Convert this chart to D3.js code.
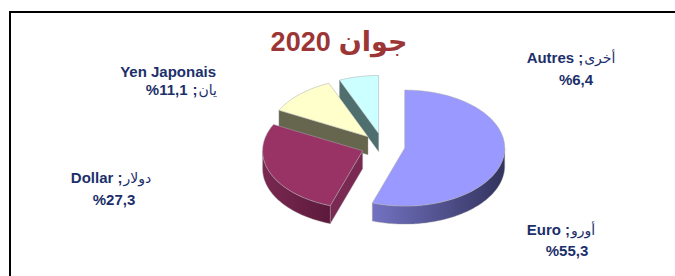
<!DOCTYPE html>
<html><head><meta charset="utf-8">
<script src="https://cdn.jsdelivr.net/npm/d3@7"></script>
<style>html,body{margin:0;padding:0;background:#fff;}svg{display:block;}</style>
</head><body>
<svg id="c" width="675" height="276"></svg>
<script>
const categories = ["Euro", "Dollar", "Yen Japonais", "Autres"];
const categoriesAr = ["أورو", "دولار", "يان", "أخرى"];
const values = [55.3, 27.3, 11.1, 6.4];
const titleYear = "2020";
const titleMonth = "جوان";

const svg = d3.select("#c");
const W = 675, H = 276;

// frame
svg.append("path").attr("d", `M10,${H+5} L10,12 L${W+5},12`)
  .attr("fill", "none").attr("stroke", "#000").attr("stroke-width", 2);

const cx = 383, cy = 146, rx = 100, ry = 58, depth = 18, explode = 22;
const pie = d3.pie().sort(null).startAngle(0).endAngle(2 * Math.PI);
const arcs = pie(values);

const topColors = ["#9999ff", "#993366", "#ffffcc", "#ccffff"];
const radialColors = ["#55559a", "#7a2a52", "#66664e", "#4f6e6e"];
const wallLight = ["#7272c2", "#7a2850", "#77775a", "#5a7a7a"];
const wallDark = ["#33335e", "#5c1a3b", "#55553f", "#3f5a5a"];

const defs = svg.append("defs");
arcs.forEach((a, i) => {
  const g = defs.append("linearGradient").attr("id", "wg" + i)
    .attr("x1", "0%").attr("x2", "100%").attr("y1", "0%").attr("y2", "0%");
  g.append("stop").attr("offset", "0%").attr("stop-color", wallLight[i]);
  g.append("stop").attr("offset", "100%").attr("stop-color", wallDark[i]);
});

function P(ox, oy, t, h) { return [ox + rx * Math.sin(t), oy - ry * Math.cos(t) + h]; }
function arcPts(ox, oy, t0, t1, h) {
  const n = Math.max(2, Math.ceil(Math.abs(t1 - t0) / 0.02));
  const pts = [];
  for (let k = 0; k <= n; k++) pts.push(P(ox, oy, t0 + (t1 - t0) * k / n, h));
  return pts;
}
const line = d3.line();

const order = [3, 2, 1, 0];
order.forEach(i => {
  const a = arcs[i];
  const m = (a.startAngle + a.endAngle) / 2;
  const ox = cx + explode * Math.sin(m);
  const oy = cy - explode * Math.cos(m) * ry / rx;
  const g = svg.append("g");
  const t0 = a.startAngle, t1 = a.endAngle;
  if (Math.sin(t0) < -1e-6) {
    const p = P(ox, oy, t0, 0);
    g.append("path").attr("d", line([[ox, oy], p, [p[0], p[1] + depth], [ox, oy + depth]]) + "Z")
      .attr("fill", radialColors[i]).attr("stroke", "#9a9a9a").attr("stroke-width", 0.4);
  }
  if (Math.sin(t1) > 1e-6) {
    const p = P(ox, oy, t1, 0);
    g.append("path").attr("d", line([[ox, oy], p, [p[0], p[1] + depth], [ox, oy + depth]]) + "Z")
      .attr("fill", radialColors[i]).attr("stroke", "#9a9a9a").attr("stroke-width", 0.4);
  }
  const w0 = Math.max(t0, Math.PI / 2), w1 = Math.min(t1, 3 * Math.PI / 2);
  if (w1 > w0) {
    const topA = arcPts(ox, oy, w0, w1, 0);
    const botA = arcPts(ox, oy, w1, w0, depth);
    g.append("path").attr("d", line(topA.concat(botA)) + "Z")
      .attr("fill", `url(#wg${i})`).attr("stroke", "#9a9a9a").attr("stroke-width", 0.4);
  }
  const pts = [[ox, oy]].concat(arcPts(ox, oy, t0, t1, 0));
  g.append("path").attr("d", line(pts) + "Z")
    .attr("fill", topColors[i]).attr("stroke", "#a8a8a8").attr("stroke-width", 0.5);
});

// draw a line made of visual-order segments (left to right)
function drawSegments(segs, x, y, anchor, color) {
  const g = svg.append("g");
  let cur = 0;
  segs.forEach(sg => {
    const t = g.append("text").attr("x", 0).attr("y", y)
      .attr("font-family", "Liberation Sans, DejaVu Sans, sans-serif")
      .attr("font-weight", sg.w).attr("font-size", sg.size).attr("fill", color).text(sg.t);
    const len = t.node().getComputedTextLength();
    t.attr("x", cur);
    cur += len + (sg.gap || 0);
  });
  const total = cur;
  const off = anchor === "end" ? x - total : anchor === "middle" ? x - total / 2 : x;
  g.attr("transform", `translate(${off},0)`);
}

drawSegments([
  {t: titleYear, w: "bold", size: 27, gap: 8},
  {t: titleMonth, w: "bold", size: 27}
], 339, 51, "middle", "#9c3636");

// labels
const fmt = v => "%" + String(v).replace(".", ",");
const L = (t, gap) => ({t, w: "bold", size: 15, gap: gap || 0});
const A = (t) => ({t, w: "normal", size: 14});
const labelLines = [
  [[L(categories[0], 4), L(";", 1), A(categoriesAr[0])], [L(fmt(values[0]))]],
  [[L(categories[1], 4), L(";", 1), A(categoriesAr[1])], [L(fmt(values[1]))]],
  [[L(categories[2])], [L(fmt(values[2]), 5), L(";", 1), A(categoriesAr[2])]],
  [[L(categories[3], 4), L(";", 1), A(categoriesAr[3])], [L(fmt(values[3]))]]
];
const labelPos = [
  [[561, 235], [567, 256]],
  [[111, 183], [114, 205]],
  [[216, 77, "end"], [217, 95, "end"]],
  [[571, 63], [576, 85]]
];
labelLines.forEach((ls, i) => {
  ls.forEach((segs, j) => {
    const p = labelPos[i][j];
    drawSegments(segs, p[0], p[1], p[2] || "middle", "#1c2f6b");
  });
});
</script>
</body></html>
